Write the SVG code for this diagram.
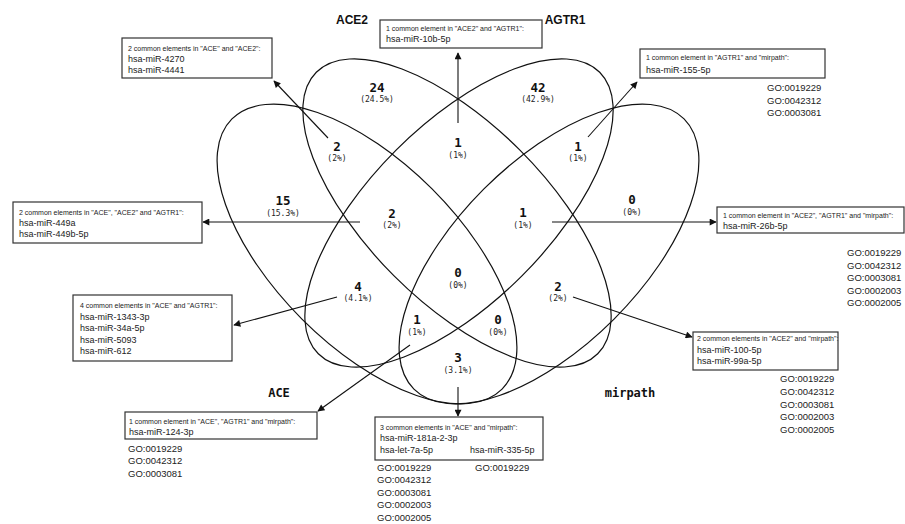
<svg xmlns="http://www.w3.org/2000/svg" width="905" height="524" viewBox="0 0 905 524">
<style>
.bg{fill:#fff}
.ell{fill:none;stroke:#111;stroke-width:1.2}
.box{fill:#fff;stroke:#333;stroke-width:1.2}
.hd{font-family:"Liberation Sans",Arial,sans-serif;font-size:7px;fill:#222}
.mi{font-family:"Liberation Sans",Arial,sans-serif;font-size:9px;fill:#222}
.go{font-family:"Liberation Sans",Arial,sans-serif;font-size:9.5px;fill:#222}
.n{font-family:"DejaVu Sans Mono",monospace;font-size:12.5px;font-weight:bold;fill:#111;text-anchor:middle}
.p{font-family:"DejaVu Sans Mono",monospace;font-size:8px;fill:#222;text-anchor:middle}
.cs{font-family:"Liberation Sans",Arial,sans-serif;font-size:12px;font-weight:bold;fill:#111;text-anchor:middle}
.cm{font-family:"DejaVu Sans Mono",monospace;font-size:12px;font-weight:bold;fill:#111;text-anchor:middle}
.ar{fill:none;stroke:#111;stroke-width:1.1;marker-end:url(#ah)}
</style>
<defs>
<marker id="ah" viewBox="0 0 10 10" refX="9" refY="5" markerWidth="8" markerHeight="7" markerUnits="userSpaceOnUse" orient="auto">
<path d="M0,0 L10,5 L0,10 z" fill="#111"/>
</marker>
</defs>
<rect class="bg" x="0" y="0" width="905" height="524"/>
<g id="sets">
<ellipse id="ell-ace" class="ell" cx="367" cy="254" rx="191" ry="92" transform="rotate(45 367 254)"/>
<ellipse id="ell-ace2" class="ell" cx="457" cy="213" rx="199" ry="89" transform="rotate(45 457 213)"/>
<ellipse id="ell-agtr1" class="ell" cx="459" cy="213" rx="199" ry="89" transform="rotate(-45 459 213)"/>
<ellipse id="ell-mirpath" class="ell" cx="549" cy="254" rx="191" ry="92" transform="rotate(-45 549 254)"/>
</g>
<g id="set-labels">
<text class="cs" x="352" y="24">ACE2</text>
<text class="cs" x="565" y="24">AGTR1</text>
<text class="cm" x="279" y="397">ACE</text>
<text class="cm" x="630" y="397">mirpath</text>
</g>
<g id="counts">
<text class="n" x="377" y="92">24</text><text class="p" x="377" y="102">(24.5%)</text>
<text class="n" x="538" y="92">42</text><text class="p" x="538" y="102">(42.9%)</text>
<text class="n" x="337" y="151">2</text><text class="p" x="337" y="161">(2%)</text>
<text class="n" x="458" y="147">1</text><text class="p" x="458" y="158">(1%)</text>
<text class="n" x="578" y="151">1</text><text class="p" x="578" y="161">(1%)</text>
<text class="n" x="283" y="205">15</text><text class="p" x="283" y="216">(15.3%)</text>
<text class="n" x="392" y="218">2</text><text class="p" x="392" y="228">(2%)</text>
<text class="n" x="523" y="217">1</text><text class="p" x="523" y="228">(1%)</text>
<text class="n" x="632" y="204">0</text><text class="p" x="632" y="215">(0%)</text>
<text class="n" x="458" y="277">0</text><text class="p" x="458" y="288">(0%)</text>
<text class="n" x="358" y="291">4</text><text class="p" x="358" y="301">(4.1%)</text>
<text class="n" x="558" y="291">2</text><text class="p" x="558" y="301">(2%)</text>
<text class="n" x="417" y="324">1</text><text class="p" x="417" y="335">(1%)</text>
<text class="n" x="498" y="324">0</text><text class="p" x="498" y="335">(0%)</text>
<text class="n" x="458" y="362">3</text><text class="p" x="458" y="373">(3.1%)</text>
</g>
<g id="connectors">
<line class="ar" x1="328" y1="138" x2="274" y2="81"/>
<line class="ar" x1="458" y1="123" x2="458" y2="53"/>
<line class="ar" x1="588" y1="137" x2="637" y2="82"/>
<line class="ar" x1="360" y1="222" x2="203" y2="222"/>
<line class="ar" x1="552" y1="222" x2="716" y2="222"/>
<line class="ar" x1="337" y1="297" x2="234" y2="325"/>
<line class="ar" x1="573" y1="297" x2="692" y2="337"/>
<line class="ar" x1="410" y1="345" x2="318" y2="411"/>
<line class="ar" x1="458" y1="387" x2="458" y2="416"/>
</g>
<g id="box-ace-ace2">
<rect class="box" x="122" y="38" width="150" height="40"/>
<text class="hd" x="128" y="51">2 common elements in "ACE" and "ACE2":</text>
<text class="mi" x="128" y="62">hsa-miR-4270</text>
<text class="mi" x="128" y="73">hsa-miR-4441</text>
</g>
<g id="box-ace2-agtr1">
<rect class="box" x="380" y="20" width="162" height="28"/>
<text class="hd" x="386" y="31">1 common element in "ACE2" and "AGTR1":</text>
<text class="mi" x="386" y="42">hsa-miR-10b-5p</text>
</g>
<g id="box-agtr1-mirpath">
<rect class="box" x="640" y="49" width="185" height="29"/>
<text class="hd" x="646" y="60">1 common element in "AGTR1" and "mirpath":</text>
<text class="mi" x="646" y="73">hsa-miR-155-5p</text>
<text class="go" x="767" y="91">GO:0019229</text>
<text class="go" x="767" y="104">GO:0042312</text>
<text class="go" x="767" y="116">GO:0003081</text>
</g>
<g id="box-ace-ace2-agtr1">
<rect class="box" x="13" y="202" width="189" height="41"/>
<text class="hd" x="19" y="215">2 common elements in "ACE", "ACE2" and "AGTR1":</text>
<text class="mi" x="19" y="226">hsa-miR-449a</text>
<text class="mi" x="19" y="237">hsa-miR-449b-5p</text>
</g>
<g id="box-ace-agtr1">
<rect class="box" x="73" y="295" width="159" height="66"/>
<text class="hd" x="80" y="308">4 common elements in "ACE" and "AGTR1":</text>
<text class="mi" x="80" y="320">hsa-miR-1343-3p</text>
<text class="mi" x="80" y="331">hsa-miR-34a-5p</text>
<text class="mi" x="80" y="343">hsa-miR-5093</text>
<text class="mi" x="80" y="354">hsa-miR-612</text>
</g>
<g id="box-ace2-agtr1-mirpath">
<rect class="box" x="717" y="207" width="187" height="26"/>
<text class="hd" x="723" y="218">1 common element in "ACE2", "AGTR1" and "mirpath":</text>
<text class="mi" x="723" y="229">hsa-miR-26b-5p</text>
<text class="go" x="847" y="256">GO:0019229</text>
<text class="go" x="847" y="269">GO:0042312</text>
<text class="go" x="847" y="281">GO:0003081</text>
<text class="go" x="847" y="294">GO:0002003</text>
<text class="go" x="847" y="306">GO:0002005</text>
</g>
<g id="box-ace2-mirpath">
<rect class="box" x="693" y="332" width="145" height="38"/>
<text class="hd" x="697" y="341">2 common elements in "ACE2" and "mirpath":</text>
<text class="mi" x="697" y="353">hsa-miR-100-5p</text>
<text class="mi" x="697" y="364">hsa-miR-99a-5p</text>
<text class="go" x="780" y="382">GO:0019229</text>
<text class="go" x="780" y="395">GO:0042312</text>
<text class="go" x="780" y="408">GO:0003081</text>
<text class="go" x="780" y="420">GO:0002003</text>
<text class="go" x="780" y="433">GO:0002005</text>
</g>
<g id="box-ace-agtr1-mirpath">
<rect class="box" x="125" y="412" width="192" height="27"/>
<text class="hd" x="129" y="424">1 common element in "ACE", "AGTR1" and "mirpath":</text>
<text class="mi" x="129" y="435">hsa-miR-124-3p</text>
<text class="go" x="128" y="452">GO:0019229</text>
<text class="go" x="128" y="464">GO:0042312</text>
<text class="go" x="128" y="477">GO:0003081</text>
</g>
<g id="box-ace-mirpath">
<rect class="box" x="375" y="417" width="168" height="43"/>
<text class="hd" x="380" y="430">3 common elements in "ACE" and "mirpath":</text>
<text class="mi" x="380" y="441">hsa-miR-181a-2-3p</text>
<text class="mi" x="380" y="453">hsa-let-7a-5p</text>
<text class="mi" x="470" y="453">hsa-miR-335-5p</text>
<text class="go" x="377" y="471">GO:0019229</text>
<text class="go" x="377" y="483">GO:0042312</text>
<text class="go" x="377" y="496">GO:0003081</text>
<text class="go" x="377" y="508">GO:0002003</text>
<text class="go" x="377" y="521">GO:0002005</text>
<text class="go" x="475" y="471">GO:0019229</text>
</g>
</svg>
